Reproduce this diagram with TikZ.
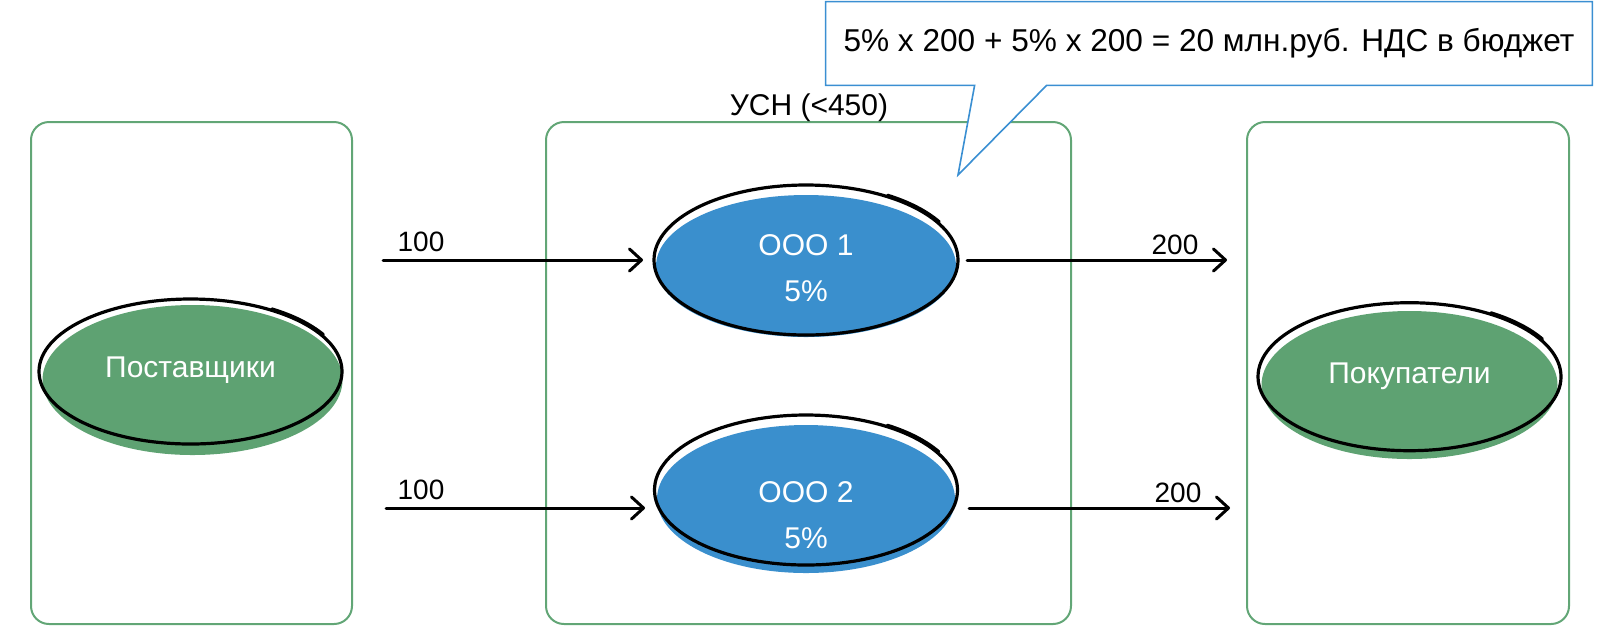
\documentclass[tikz,border=0pt]{standalone}
\usepackage{fontspec}
\setmainfont{Liberation Sans}
\usetikzlibrary{arrows.meta,shapes.geometric}
\definecolor{boxgreen}{RGB}{98,166,118}
\definecolor{greenfill}{RGB}{94,162,114}
\definecolor{bluefill}{RGB}{58,143,205}
\definecolor{callblue}{RGB}{58,143,210}
\begin{document}
\begin{tikzpicture}[x=0.5pt,y=-0.5pt,
  panel/.style={draw=boxgreen, line width=1pt, rounded corners=9pt, minimum height=251pt, inner sep=0pt},
  elltext/.style={ellipse, inner sep=0pt, minimum width=150pt, minimum height=72pt, text=white, font=\fontsize{15}{23}\selectfont, align=center},
  sketch/.style={draw=black, line width=1.6pt},
  sketchb/.style={draw=black, line width=1.4pt, line cap=round},
  flow/.style={line width=1.5pt, line cap=round, -{Straight Barb[length=6pt,width=11pt,line cap=round,line join=round]}},
  lbl/.style={font=\fontsize{14}{16}\selectfont, inner sep=0pt},
  callbox/.style={minimum width=383pt, minimum height=41.5pt, inner sep=0pt, font=\fontsize{15.8}{18}\selectfont},
  callline/.style={draw=callblue, line width=0.8pt, fill=white}
]
\useasboundingbox (0,0) rectangle (1600,629);

% panels
\node[panel, minimum width=160.5pt] (pl) at (191.5,373) {};
\node[panel, minimum width=262.5pt] (pm) at (808.5,373) {};
\node[panel, minimum width=161pt] (pr) at (1408,373) {};
\node[font=\fontsize{15}{18}\selectfont, anchor=base] (usn) at (809,115) {УСН (<450)};

% Поставщики
\coordinate (supc) at (190.5,370);
\fill[greenfill] ([shift={(2,10)}]supc) ellipse [x radius=75pt, y radius=37.5pt];
\draw[sketch] ([shift={(0,1.5)}]supc) ellipse [x radius=75.75pt, y radius=36.25pt];
\draw[sketchb] ([shift={(0,1.5)}]supc) ++(30:76.8pt and 37pt) arc[start angle=30, end angle=58, x radius=76.8pt, y radius=37pt];

\node[elltext] (sup) at (supc) {Поставщики};

% Покупатели
\coordinate (buyc) at (1409.5,376);
\fill[greenfill] ([shift={(0,9)}]buyc) ellipse [x radius=74pt, y radius=37pt];
\draw[sketch] ([shift={(0,0.7)}]buyc) ellipse [x radius=75.75pt, y radius=37pt];
\draw[sketchb] ([shift={(0,0.7)}]buyc) ++(30:76.8pt and 37.8pt) arc[start angle=30, end angle=58, x radius=76.8pt, y radius=37.8pt];
\node[elltext] (buy) at (buyc) {Покупатели};

% ООО 1
\coordinate (o1c) at (806,268);
\fill[bluefill] ([shift={(0,-2)}]o1c) ellipse [x radius=75pt, y radius=35.5pt];
\draw[sketch] ([shift={(0,-8)}]o1c) ellipse [x radius=76pt, y radius=37.5pt];
\draw[sketchb] ([shift={(0,-8)}]o1c) ++(30:77pt and 38.3pt) arc[start angle=30, end angle=58, x radius=77pt, y radius=38.3pt];
\node[elltext] (o1) at (o1c) {ООО 1\\5\%};

% ООО 2
\coordinate (o2c) at (806,515.5);
\fill[bluefill] ([shift={(0,-16.5)}]o2c) ellipse [x radius=74.5pt, y radius=37pt];
\draw[sketch] ([shift={(0,-25.5)}]o2c) ellipse [x radius=75.75pt, y radius=37.5pt];
\draw[sketchb] ([shift={(0,-25.5)}]o2c) ++(30:76.8pt and 38.3pt) arc[start angle=30, end angle=58, x radius=76.8pt, y radius=38.3pt];
\node[elltext] (o2) at (o2c) {ООО 2\\5\%};

% flows
\coordinate (in1) at (383,260);
\coordinate (in2) at (386,508);
\coordinate (out1) at (1227,260);
\coordinate (out2) at (1230,508);
\coordinate (o1w) at (643,260);
\coordinate (o2w) at (645,508);
\coordinate (o1e) at (967,260);
\coordinate (o2e) at (969,508);
\draw[flow] (in1) -- (o1w);
\draw[flow] (in2) -- (o2w);
\draw[flow] (o1e) -- (out1);
\draw[flow] (o2e) -- (out2);
\node[lbl] (l1) at (421,242) {100};
\node[lbl] (l2) at (421,490) {100};
\node[lbl] (l3) at (1175,245) {200};
\node[lbl] (l4) at (1178,493) {200};

% callout
\node[callbox] (call) at (1209,43.5) {};
\coordinate (tip) at (958,175);
\draw[callline] (call.north west) -- (call.north east) -- (call.south east)
  -- ([xshift=110.5pt]call.south west) -- (tip) -- ([xshift=74.5pt]call.south west)
  -- (call.south west) -- cycle;
\node[callbox] (calltext) at (call.center) {5\% x 200 + 5\% x 200 = 20 млн.руб. НДС в бюджет};
\end{tikzpicture}
\end{document}
